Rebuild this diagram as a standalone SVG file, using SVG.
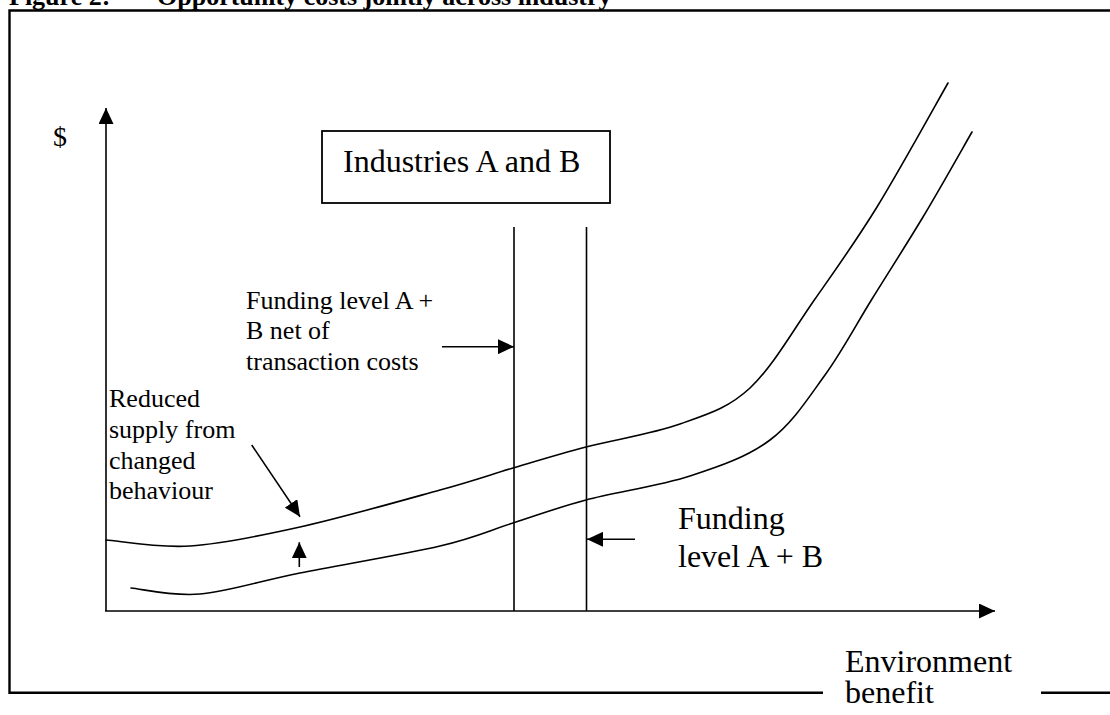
<svg xmlns="http://www.w3.org/2000/svg" width="1110" height="715" viewBox="0 0 1110 715">
<defs>
<style>
.t{font-family:"Liberation Serif","Times New Roman",serif;fill:#000}
.ln{stroke:#000;stroke-width:1.6;fill:none}
.fr{stroke:#000;stroke-width:2.4;fill:none}
.cv{stroke:#000;stroke-width:1.6;fill:none;stroke-linecap:round}
</style>
<marker id="ah" viewBox="0 0 16 15" refX="16" refY="7.5" markerWidth="16" markerHeight="15" markerUnits="userSpaceOnUse" orient="auto">
<path d="M0,0 L16,7.5 L0,15 Z" fill="#000"/>
</marker>
</defs>
<rect width="1110" height="715" fill="#fff"/>
<g id="title">
<text class="t" x="9" y="5" font-size="26" font-weight="bold">Figure 2:</text>
<text class="t" x="157" y="5" font-size="26" font-weight="bold">Opportunity costs jointly across industry</text>
</g>
<g id="frame">
<polyline class="fr" points="1110,10.5 9.5,10.5 9.5,692.7 823,692.7"/>
<line class="fr" x1="1041" y1="692.7" x2="1110" y2="692.7"/>
</g>
<g id="axes">
<line class="ln" x1="106" y1="611" x2="106" y2="108" marker-end="url(#ah)"/>
<line class="ln" x1="105" y1="611" x2="995" y2="611" marker-end="url(#ah)"/>
<text class="t" x="53" y="146" font-size="28">$</text>
</g>
<g id="industries-box">
<rect x="322" y="131" width="288" height="72" fill="#fff" stroke="#000" stroke-width="1.8"/>
<text class="t" x="343" y="172" font-size="32">Industries A and B</text>
</g>
<g id="funding-lines">
<line class="ln" x1="514" y1="227" x2="514" y2="611"/>
<line class="ln" x1="586.5" y1="227" x2="586.5" y2="611"/>
</g>
<g id="supply-upper">
<path class="cv" d="M106,540 C120,541 157.7,548.2 190,546 C222.3,543.8 258.3,536.3 300,527 C341.7,517.7 404.5,499.8 440,490 C475.5,480.2 488.7,475.2 513,468 C537.3,460.8 558.2,454.3 586,447 C613.8,439.7 652.7,433.8 680,424 C707.3,414.2 727.5,408.8 750,388 C772.5,367.2 793.8,329.2 815,299 C836.2,268.8 854.8,243 877,207 C899.2,171 936.2,103.7 948,83"/>
</g>
<g id="supply-lower">
<path class="cv" d="M131,588 C142.5,589 171.8,596.5 200,594 C228.2,591.5 260,581 300,573 C340,565 404.5,554.3 440,546 C475.5,537.7 488.7,530.7 513,523 C537.3,515.3 556.5,507.8 586,500 C615.5,492.2 659.3,486 690,476 C720.7,466 747.5,456.8 770,440 C792.5,423.2 808,398.5 825,375 C842,351.5 855.7,325.3 872,299 C888.3,272.7 906.3,244.8 923,217 C939.7,189.2 963.8,146.2 972,132"/>
</g>
<g id="label-net">
<text class="t" font-size="26"><tspan x="246" y="309">Funding level A +</tspan><tspan x="246" y="339">B net of</tspan><tspan x="246" y="370">transaction costs</tspan></text>
</g>
<g id="label-reduced">
<text class="t" font-size="26"><tspan x="109" y="407">Reduced</tspan><tspan x="109" y="438">supply from</tspan><tspan x="109" y="469">changed</tspan><tspan x="109" y="499">behaviour</tspan></text>
</g>
<g id="label-funding">
<text class="t" font-size="32"><tspan x="678" y="529">Funding</tspan><tspan x="678" y="567">level A + B</tspan></text>
</g>
<g id="label-x">
<text class="t" font-size="32"><tspan x="845" y="672">Environment</tspan><tspan x="845" y="703">benefit</tspan></text>
</g>
<g id="connectors">
<line class="ln" x1="442" y1="346.7" x2="514" y2="346.7" marker-end="url(#ah)"/>
<line class="ln" x1="635" y1="539.3" x2="587" y2="539.3" marker-end="url(#ah)"/>
<line class="ln" x1="251.7" y1="445" x2="300" y2="516.7" marker-end="url(#ah)"/>
<line class="ln" x1="299.3" y1="567" x2="299.3" y2="542.3" marker-end="url(#ah)"/>
</g>
</svg>
